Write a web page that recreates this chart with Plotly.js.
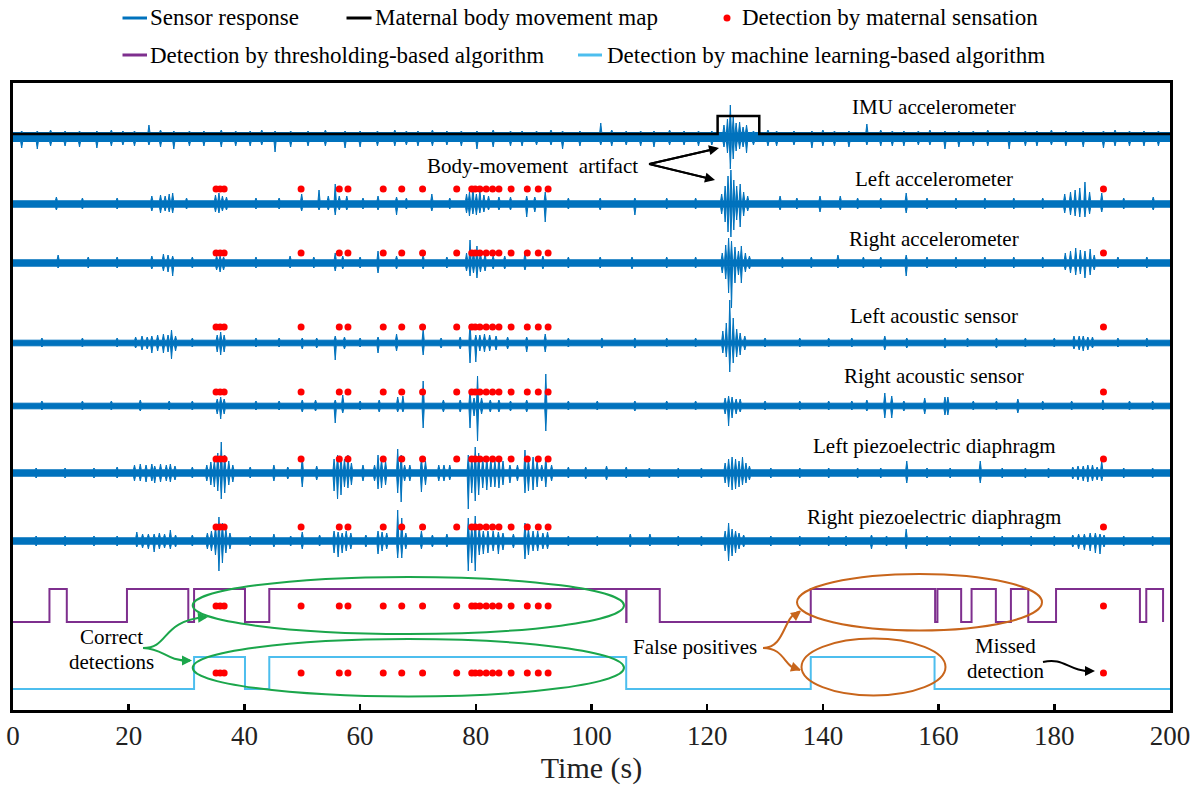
<!DOCTYPE html>
<html><head><meta charset="utf-8">
<script src="https://cdn.plot.ly/plotly-3.0.1.min.js"></script>
<style>html,body{margin:0;padding:0;background:#fff}#chart{width:1204px;height:787px}</style>
</head><body><div id="chart"></div>
<script>
// ---------------- DATA ----------------
// spikes: [time (s), amplitude up, amplitude down] (pixel-like units of the y axis)
const sensorNames = ['IMU accelerometer','Left accelerometer','Right accelerometer','Left acoustic sensor','Right acoustic sensor','Left piezoelectric diaphragm','Right piezoelectric diaphragm'];
const noiseLevel = [4.5, 3.2, 3.2, 2.8, 2.8, 3.2, 3.2];

const imuSpikes = [[1.5,6,11],[4.2,6,12],[9,6,9],[14.5,6,11],[19,6,8],[23.5,12,8],[27.8,6,12],[33,6,9],[38.5,6,9],[45.3,6,15],[51,6,9],[57.4,6,11],[63,6,9],[70,6,9],[75,6,8],[80.2,6,12],[86,6,9],[90.5,6,8],[95,6,12],[101.6,14,8],[106,6,8],[110.8,6,10],[116,6,8],[120.8,6,8],[122.9,12,10],[123.5,18,16],[124.0,32,32],[124.5,20,22],[125.0,14,14],[125.6,15,12],[126.2,10,10],[126.8,12,16],[128,6,8],[132,6,9],[138.1,6,11],[142,6,9],[147.6,13,8],[152,6,9],[156.5,6,8],[161.1,6,12],[166,6,9],[172.2,6,12],[177,6,9],[182,6,9],[188.5,6,11],[193,6,9],[198,6,9],
  [6.5,7,9],[11.5,6,10],[17,7,9],[21,6,9],[25.5,7,10],[30.5,6,9],[36,7,10],[41,6,9],[43,7,8],[48,6,10],[54,7,9],[60,6,10],[66,7,9],[68,6,8],[72.5,7,9],[77.5,6,9],[83,7,10],[88,6,9],[93,7,8],[98,6,9],[103.5,7,9],[108.5,6,9],[113.5,7,8],[118.5,6,9],[130.5,7,9],[135,6,8],[140,7,9],[144.5,6,10],[150,7,9],[154,6,9],[158.5,7,8],[163.5,6,10],[168.5,7,9],[175,6,9],[179.5,7,8],[185,6,10],[190.5,7,9],[195.5,6,9]];

const leftAccSpikes = [[7.5,7,6],[12,6,5],[18,6,5],[24,8,7],[25.5,9,9],[26.3,8,7],[27,10,8],[27.6,11,9],[30,6,5],[35,9,8],[35.6,11,9],[36.2,8,7],[36.9,7,6],[42,6,5],[46,6,5],[49.9,10,7],[52.9,14,6],[54.5,8,6],[55.7,20,11],[56.4,8,6],[57.7,8,6],[60.5,6,5],[63.1,8,6],[66.3,7,11],[68,6,5],[72.4,10,7],[75.5,6,5],[78.4,10,9],[78.9,12,12],[79.5,17,10],[80.1,10,11],[80.7,14,9],[81.4,9,8],[82.2,8,6],[84,7,6],[86,7,6],[88.8,8,13],[90.2,7,8],[92,12,18],[96,6,5],[101.5,6,6],[107.5,6,11],[113,6,5],[118,6,5],[122.5,10,10],[123.1,18,18],[123.6,28,28],[124.1,34,33],[124.6,24,26],[125.1,18,16],[125.7,20,23],[126.3,12,12],[127,8,7],[132.6,8,6],[135.5,6,5],[139.5,8,8],[143,8,6],[146,6,5],[150,6,5],[154.4,11,9],[158,6,5],[163,6,5],[168,6,5],[173,6,5],[178,6,5],[181.8,10,9],[182.8,12,11],[183.6,14,12],[184.4,16,13],[185.3,22,13],[186.1,12,10],[188.2,11,8],[192,6,5],[197.1,7,6]];

const rightAccSpikes = [[7.8,8,5],[13,6,5],[18,6,5],[24,7,6],[26.0,9,8],[26.8,8,9],[27.6,7,13],[31,6,5],[35.2,7,7],[35.8,7,9],[36.4,6,7],[42,6,5],[47.9,7,5],[52,6,5],[55.7,10,8],[57,7,6],[60,6,5],[63.1,12,10],[66.3,7,6],[70.9,8,6],[75,6,5],[78.4,10,8],[79.0,23,13],[79.6,12,10],[80.2,17,15],[80.8,10,9],[81.6,9,8],[83,7,6],[85,7,6],[88.5,10,7],[91.6,7,6],[96,6,5],[101.5,6,5],[107,6,6],[113,6,5],[118,6,5],[122.6,10,10],[123.2,18,16],[123.7,25,30],[124.2,22,45],[124.8,16,20],[125.4,12,12],[125.9,17,20],[126.6,10,9],[127.3,7,6],[133,6,5],[138,6,5],[142.6,8,5],[147,6,5],[150,6,5],[154.4,8,13],[158,6,5],[163,6,5],[168,6,5],[173,6,5],[178,6,5],[181.9,10,7],[182.8,12,10],[183.7,15,12],[184.5,13,11],[185.3,12,15],[186.2,14,12],[186.9,8,7],[191,6,5],[196,6,5]];

const leftAcouSpikes = [[5,5,4],[12,5,4],[18,5,4],[21.2,6,5],[22.3,7,7],[23.2,6,6],[24.0,7,10],[25.0,8,8],[26.0,9,10],[26.8,8,9],[27.4,13,16],[28.1,7,8],[31,5,4],[35.3,8,9],[35.9,11,12],[36.5,8,9],[42,5,4],[46,5,4],[50.0,5,6],[52.5,5,5],[55.7,7,17],[57.3,6,6],[60,5,4],[63.1,6,10],[66.3,9,8],[70.9,14,12],[74,5,5],[77.3,6,6],[79.0,19,20],[80.0,8,19],[80.7,8,8],[81.5,9,9],[82.4,8,8],[83.5,7,7],[85.5,6,6],[88.8,6,9],[92.0,9,9],[96,5,4],[101.8,5,5],[107.5,5,5],[113,5,4],[118,5,4],[122.7,12,10],[123.3,20,14],[123.9,43,29],[124.5,25,20],[125.1,14,14],[125.7,10,12],[126.5,7,7],[130,5,4],[136,5,4],[141,5,4],[145,5,4],[150.7,7,7],[154.5,5,5],[161.1,5,5],[165,5,4],[170,5,5],[175,5,4],[180,5,4],[183.4,7,6],[184.3,7,7],[185.0,7,8],[185.8,6,7],[186.6,6,5],[191,5,4],[196,5,4]];

const rightAcouSpikes = [[5,5,4],[12,5,4],[17,5,4],[22,6,5],[27,5,4],[31,5,4],[35.3,7,8],[35.9,9,13],[36.5,7,8],[42,5,4],[46,5,4],[50.0,6,6],[52.3,6,5],[55.7,6,17],[57.0,11,7],[60,5,4],[63.3,6,6],[66.5,9,6],[67.4,10,6],[70.9,25,22],[74.4,6,6],[77.3,6,6],[79.0,15,22],[79.7,8,10],[80.3,30,35],[81.0,8,8],[82.5,6,6],[84,6,6],[86,5,5],[88.8,6,6],[92.1,32,25],[96,5,4],[101,5,4],[107.5,5,5],[113,5,4],[118,5,4],[123.1,8,8],[123.7,10,20],[124.3,9,12],[125.0,7,8],[125.7,7,6],[130,5,4],[136,5,4],[141,5,4],[145,5,4],[147.6,6,5],[150.7,13,12],[151.9,10,12],[154,5,5],[157.6,8,8],[161.1,9,9],[161.6,9,9],[166,5,4],[170,5,4],[173.7,7,7],[178,5,4],[183,5,4],[188.4,6,4],[193,5,4],[197,5,4]];

const leftPiezoSpikes = [[4,5,5],[9,5,5],[14,5,5],[18,6,5],[21.0,8,8],[22.0,9,8],[23.0,8,9],[24.0,9,8],[24.5,7,10],[25.5,9,9],[26.5,8,8],[27.2,9,9],[28.0,7,7],[31,6,5],[33.5,8,8],[34.2,11,12],[34.8,12,14],[35.4,20,18],[36.0,31,26],[36.6,18,20],[37.3,12,12],[38.0,8,9],[41,6,5],[45.1,8,8],[47.5,6,6],[50.0,16,14],[52.5,7,7],[55.5,14,18],[56.1,18,26],[56.7,15,22],[57.3,14,14],[57.9,18,15],[58.5,10,12],[60.5,8,8],[62.5,8,8],[63.1,18,16],[63.7,14,15],[64.4,12,12],[66.5,24,20],[67.1,18,29],[67.7,8,8],[68.6,8,8],[70.6,16,19],[71.3,12,12],[73.6,8,8],[74.5,8,8],[75.5,8,7],[78.7,18,36],[79.3,15,20],[79.9,26,28],[80.5,20,22],[81.2,15,15],[81.9,16,17],[82.6,14,14],[83.3,12,14],[84.0,16,15],[84.7,12,12],[85.9,8,10],[87.2,8,8],[88.5,23,20],[89.1,15,18],[89.9,16,17],[90.6,12,14],[91.4,8,8],[92.1,16,14],[93.1,8,8],[96,6,5],[99,6,6],[102.6,7,7],[106,6,5],[110,5,5],[115,5,5],[119,5,5],[123.1,10,10],[123.7,14,14],[124.3,16,17],[124.9,14,16],[125.5,12,14],[126.1,16,12],[126.7,10,10],[127.3,7,7],[131,5,5],[136,5,5],[141,5,5],[146,5,5],[150,5,5],[154.5,12,10],[158,5,5],[162,5,5],[167.2,12,10],[171,5,5],[175,5,5],[179,5,5],[183.2,6,6],[184.1,7,7],[185.0,7,8],[185.8,8,9],[186.6,8,8],[187.4,6,7],[188.2,12,8],[192,5,5],[197,5,5]];

const rightPiezoSpikes = [[4,5,5],[9,5,5],[14,5,5],[18,5,5],[21.4,9,6],[22.4,7,7],[23.4,7,8],[24.4,7,11],[25.3,8,8],[26.2,7,7],[27.2,11,8],[28.1,6,6],[31,6,5],[33.6,8,8],[34.3,10,10],[35.0,15,14],[35.6,24,30],[36.2,18,22],[36.8,12,12],[37.5,8,8],[41,5,5],[45.1,7,6],[48,5,5],[50.0,9,8],[53,6,5],[55.5,10,12],[56.2,9,16],[56.9,8,12],[57.6,10,10],[58.4,8,8],[61,6,6],[63.1,10,13],[63.8,9,10],[64.6,8,8],[66.5,31,17],[67.2,23,17],[67.9,8,8],[70.6,10,8],[72.5,6,6],[75,7,6],[78.7,23,30],[79.3,14,22],[79.9,25,30],[80.6,14,14],[81.3,10,13],[82.1,10,12],[83.0,10,10],[83.9,9,13],[84.7,8,9],[86.5,7,7],[88.5,18,18],[89.1,12,14],[89.9,10,10],[90.7,10,10],[91.6,8,8],[92.4,9,8],[96,5,5],[101,5,5],[106.7,7,6],[110.1,7,5],[115,5,5],[119,5,5],[123.1,10,10],[123.7,18,20],[124.3,12,15],[124.9,10,12],[125.5,8,8],[126.3,6,6],[131,5,5],[136,5,5],[141,5,5],[144,5,5],[148.4,6,8],[151,5,5],[154.4,12,8],[158,5,5],[162,5,5],[167,5,5],[171,5,5],[176,5,5],[180,5,5],[183.2,6,6],[184.2,7,8],[185.2,7,9],[186.2,8,10],[187.1,8,12],[187.9,7,13],[188.6,6,6],[192,5,5],[197,5,5]];

// maternal body movement map (IMU): time, state
const bodyMapT = [0, 121.8, 129.0, 200];
const bodyMapS = [0, 1, 0, 0];
// thresholding-based detection: time, state
const threshT = [0, 6.3, 9.3, 19.7, 30.3, 31.3, 40.1, 44.3, 106.0, 106.05, 111.8, 137.9, 159.4, 159.8, 163.9, 165.7, 169.9, 172.5, 175.5, 180.3, 194.8, 195.9, 198.8];
const threshS = [0, 1, 0, 1, 0, 1, 0, 1, 0, 1, 0, 1, 0, 1, 0, 1, 0, 1, 0, 1, 0, 1, 0];
// machine-learning-based detection: time, state
const mlT = [0, 31.3, 40.1, 44.3, 106.0, 137.9, 159.3, 200];
const mlS = [0, 1, 0, 1, 0, 1, 0, 0];
// detections by maternal sensation (s)
const maternalT = [35.1, 35.8, 36.5, 49.8, 56.4, 57.9, 64.0, 67.2, 70.8, 76.7, 79.3, 79.9, 80.7, 81.8, 82.9, 84.0, 86.1, 88.9, 90.8, 92.5, 188.5];

// ---------------- LAYOUT CONSTANTS ----------------
const FONT = 'Liberation Serif, Times New Roman, serif';
const BLUE = '#0072BD', PURPLE = '#7E2F8E', LBLUE = '#4DBEEE', GREEN = '#1BA64B', ORANGE = '#C8651B';
const sensorBase = [573, 506, 447, 367, 304, 237, 169];
const labelY = [603, 531, 471, 394, 334, 264, 193];
const dotRows = [521, 457, 383, 318, 251, 183, 104, 37];
const bodyLev = [576, 594], threshLev = [88, 121], mlLev = [21, 53];
const PX0 = 13, PX1 = 1170, PY0 = 710, PY1 = 83;
function tx(px){ return (px - PX0) * 200 / (PX1 - PX0); }
function vy(py){ return (PY0 - py) * 627 / (PY0 - PY1); }
function xp(px){ return (px - PX0) / (PX1 - PX0); }
function yp(py){ return (PY0 - py) / (PY0 - PY1); }
function P(px, py){ return tx(px) + ',' + vy(py); }

function envelope(spkIn, base, nz){
  const spk = spkIn.slice().sort((a, b) => a[0] - b[0]);
  const w = 0.18;
  const ux = [0], uy = [base + nz];
  spk.forEach(s => { ux.push(s[0]-w, s[0], s[0]+w); uy.push(base+nz, base+Math.max(s[1],nz), base+nz); });
  ux.push(200); uy.push(base + nz);
  const lx = [200], ly = [base - nz];
  for (let i = spk.length - 1; i >= 0; i--) { const s = spk[i]; lx.push(s[0]+w, s[0], s[0]-w); ly.push(base-nz, base-Math.max(s[2],nz), base-nz); }
  lx.push(0); ly.push(base - nz);
  return { x: ux.concat(lx), y: uy.concat(ly) };
}

const allSpikes = [imuSpikes, leftAccSpikes, rightAccSpikes, leftAcouSpikes, rightAcouSpikes, leftPiezoSpikes, rightPiezoSpikes];
const traces = [];
allSpikes.forEach((spk, i) => {
  const e = envelope(spk, sensorBase[i], noiseLevel[i]);
  traces.push({ type: 'scatter', mode: 'lines', x: e.x, y: e.y, fill: 'toself', fillcolor: BLUE,
    line: { color: BLUE, width: 1 }, name: sensorNames[i], showlegend: false, hoverinfo: 'skip' });
});
traces.push({ type: 'scatter', mode: 'lines', x: bodyMapT, y: bodyMapS.map(s => bodyLev[0] + s*(bodyLev[1]-bodyLev[0])),
  line: { color: '#000', width: 2.5, shape: 'hv' }, showlegend: false, name: 'Maternal body movement map' });
traces.push({ type: 'scatter', mode: 'lines', x: threshT, y: threshS.map(s => threshLev[0] + s*(threshLev[1]-threshLev[0])),
  line: { color: PURPLE, width: 2, shape: 'hv' }, showlegend: false, name: 'Detection by thresholding-based algorithm' });
traces.push({ type: 'scatter', mode: 'lines', x: mlT, y: mlS.map(s => mlLev[0] + s*(mlLev[1]-mlLev[0])),
  line: { color: LBLUE, width: 2, shape: 'hv' }, showlegend: false, name: 'Detection by machine learning-based algorithm' });
const dx = [], dy = [];
dotRows.forEach(r => maternalT.forEach(t => { dx.push(t); dy.push(r); }));
traces.push({ type: 'scatter', mode: 'markers', x: dx, y: dy, marker: { color: '#FF0000', size: 7 },
  showlegend: false, name: 'Detection by maternal sensation', cliponaxis: false });

// ---------------- ANNOTATIONS & SHAPES ----------------
const ann = [];
const txt = (x, y, t, size, anchor) => ({ x, y, xref: 'x', yref: 'y', text: t, showarrow: false,
  xanchor: anchor || 'center', yanchor: 'middle', font: { family: FONT, size: size || 21, color: '#000' } });
sensorNames.forEach((n, i) => ann.push(txt(tx(934), labelY[i], n)));
ann.push(txt(tx(532), vy(166), 'Body-movement\u00A0 artifact'));
ann.push(txt(tx(111.7), vy(636.5), 'Correct'));
ann.push(txt(tx(111.7), vy(661.5), 'detections'));
ann.push(txt(tx(695), vy(647), 'False positives'));
ann.push(txt(tx(1005), vy(646), 'Missed'));
ann.push(txt(tx(1005), vy(671), 'detection'));
const head = (px, py, ax, ay, col, w) => ({ x: tx(px), y: vy(py), xref: 'x', yref: 'y', text: '', showarrow: true,
  ax, ay, arrowhead: 2, arrowsize: 1, arrowwidth: w || 2, arrowcolor: col, standoff: 0 });
ann.push(head(719, 148, -70, 16, '#000', 2));
ann.push(head(715, 180, -66, -16, '#000', 2));
ann.push(head(208, 617, -12, 1, GREEN));
ann.push(head(192, 660.5, -12, 0, GREEN));
ann.push(head(801, 611, -8, 6, ORANGE));
ann.push(head(801, 670, -9, -3, ORANGE));
ann.push(head(1095, 671, -12, 0, '#000'));

// legend (custom)
const legTxt = (px, py, t) => ({ x: xp(px), y: yp(py), xref: 'paper', yref: 'paper', text: t, showarrow: false,
  xanchor: 'left', yanchor: 'middle', font: { family: FONT, size: 23, color: '#000' } });
ann.push(legTxt(148, 18, 'Sensor response'));
ann.push(legTxt(373, 18, 'Maternal body movement map'));
ann.push(legTxt(740, 18, 'Detection by maternal sensation'));
ann.push(legTxt(148, 55, 'Detection by thresholding-based algorithm'));
ann.push(legTxt(605, 55, 'Detection by machine learning-based algorithm'));

const shapes = [];
const legLine = (x0, x1, py, col) => ({ type: 'line', xref: 'paper', yref: 'paper', x0: xp(x0), x1: xp(x1), y0: yp(py), y1: yp(py), line: { color: col, width: 3 } });
shapes.push(legLine(122.5, 147, 18, BLUE));
shapes.push(legLine(346.5, 371.5, 18, '#000'));
shapes.push(legLine(122.5, 147, 55, PURPLE));
shapes.push(legLine(578, 602, 55, LBLUE));
shapes.push({ type: 'circle', xref: 'paper', yref: 'paper', x0: xp(723.5), x1: xp(730.5), y0: yp(21.5), y1: yp(14.5), fillcolor: '#FF0000', line: { width: 0 } });
const ell = (px0, px1, py0, py1, col) => ({ type: 'circle', xref: 'x', yref: 'y', x0: tx(px0), x1: tx(px1), y0: vy(py1), y1: vy(py0), line: { color: col, width: 2 } });
shapes.push(ell(192.7, 624, 577, 634, GREEN));
shapes.push(ell(192.7, 624, 639, 696.5, GREEN));
shapes.push(ell(797, 1042, 574, 630.5, ORANGE));
shapes.push(ell(801.5, 945.5, 638.5, 695.5, ORANGE));
const path = (d, col) => ({ type: 'path', xref: 'x', yref: 'y', path: d, line: { color: col, width: 2 } });
shapes.push(path('M ' + P(143,648) + ' C ' + P(170,648) + ' ' + P(160,621) + ' ' + P(206,617), GREEN));
shapes.push(path('M ' + P(143,648) + ' C ' + P(165,649) + ' ' + P(165,661) + ' ' + P(190,660.5), GREEN));
shapes.push(path('M ' + P(763,648) + ' C ' + P(786,648) + ' ' + P(783,614) + ' ' + P(800,611.5), ORANGE));
shapes.push(path('M ' + P(763,648) + ' C ' + P(786,648) + ' ' + P(783,668) + ' ' + P(800,670), ORANGE));
shapes.push(path('M ' + P(1043,662) + ' C ' + P(1065,657) + ' ' + P(1068,672) + ' ' + P(1093,671), '#000'));
shapes.push(path('M ' + P(649,164) + ' L ' + P(716,148.7), '#000'));
shapes.push(path('M ' + P(649,164) + ' L ' + P(712,179.3), '#000'));

const layout = {
  width: 1204, height: 787,
  margin: { l: 13, r: 34, t: 83, b: 77, pad: 0 },
  paper_bgcolor: '#fff', plot_bgcolor: '#fff',
  showlegend: false,
  font: { family: FONT, color: '#000' },
  xaxis: { range: [0, 200], tickvals: [0,20,40,60,80,100,120,140,160,180,200], ticks: 'inside', ticklen: 6, tickwidth: 2.5,
    tickcolor: '#000', showline: true, linewidth: 3, linecolor: '#000', mirror: true, showgrid: false, zeroline: false,
    tickfont: { family: FONT, size: 27, color: '#222' },
    title: { text: 'Time (s)', font: { family: FONT, size: 30, color: '#222' }, standoff: 4 } },
  yaxis: { range: [0, 627], showticklabels: false, ticks: '', showline: true, linewidth: 3, linecolor: '#000', mirror: true,
    showgrid: false, zeroline: false },
  annotations: ann, shapes: shapes
};
Plotly.newPlot('chart', traces, layout, { staticPlot: true, displayModeBar: false });
</script></body></html>
